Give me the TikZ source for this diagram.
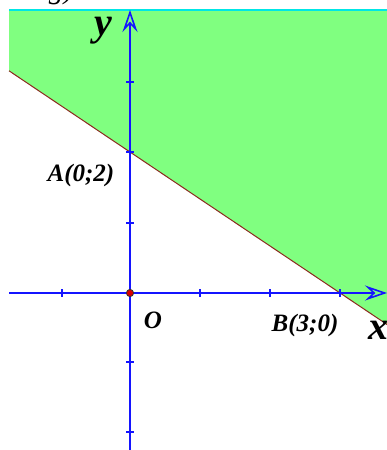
\documentclass[tikz,border=0pt]{standalone}
\usepackage{fontspec}
\setmainfont{Liberation Serif}
\usetikzlibrary{arrows.meta}
\definecolor{regiongreen}{RGB}{128,255,128}
\definecolor{axisblue}{RGB}{20,20,255}
\definecolor{edgecyan}{RGB}{0,230,230}
\definecolor{linebrown}{RGB}{140,40,30}
\tikzset{
  axis/.style={axisblue, line width=1.5pt, -{Stealth[length=22pt,width=15pt,inset=8pt,open,line width=1.6pt]}},
  tickmark/.style={axisblue, line width=1.5pt},
  ptlabel/.style={font=\fontsize{25}{27}\selectfont\bfseries\itshape, text=black, inner sep=0pt},
  axlabel/.style={font=\fontsize{40}{42}\selectfont\bfseries\itshape, text=black, inner sep=0pt},
}
\begin{document}
\begin{tikzpicture}[x=1pt,y=-1pt]
\useasboundingbox (0,0) rectangle (387,450);
\begin{scope}
\clip (0,0) rectangle (387,450);
\node[font=\fontsize{30}{32}\selectfont\itshape, anchor=base east, inner sep=0pt] (toptext) at (74,-2) {nning)};
\end{scope}
% region
\coordinate (TL) at (9,10);
\coordinate (TR) at (387,10);
\coordinate (L) at (9,70.8);
\coordinate (R) at (387,324.5);
\fill[regiongreen] (TL) -- (TR) -- (R) -- (L) -- cycle;
\draw[edgecyan, line width=1.6pt] (TL) -- (TR);
\draw[linebrown, line width=1pt] (L) -- (R);
% axes
\coordinate (O) at (130,293);
\coordinate (xs) at (9,293);
\coordinate (xe) at (387,293);
\coordinate (ys) at (130,450);
\coordinate (ye) at (130,10);
\draw[axis] (xs) -- (xe);
\draw[axis] (ys) -- (ye);
\foreach \t in {62,200,270,340} \draw[tickmark] (\t,289) -- (\t,297);
\foreach \t in {82,152,223,362,432} \draw[tickmark] (126,\t) -- (134,\t);
\fill[red!85!black, draw=black!80, line width=0.8pt] (O) circle (3.6);
% labels
\node[axlabel] (ylab) at (103,31) {y};
\node[axlabel] (xlab) at (378,330) {x};
\node[ptlabel] (Alab) at (81,175) {A(0;2)};
\node[ptlabel] (Olab) at (153,320) {O};
\node[ptlabel] (Blab) at (305,325) {B(3;0)};
\end{tikzpicture}
\end{document}
